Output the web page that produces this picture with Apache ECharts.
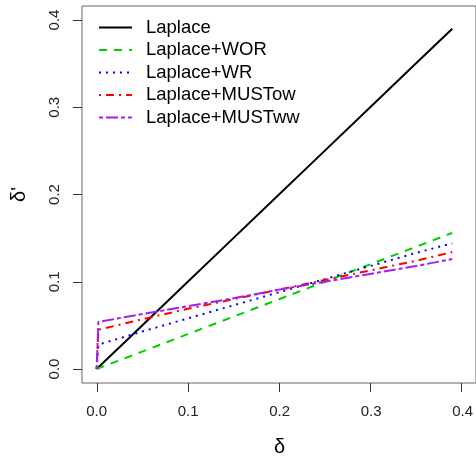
<!DOCTYPE html>
<html><head><meta charset="utf-8">
<script src="https://cdn.jsdelivr.net/npm/echarts@6/dist/echarts.min.js"></script>
<style>html,body{margin:0;padding:0;background:#fff}#c{width:476px;height:464px}</style>
</head><body><div id="c"></div>
<script>
// data
var delta = [0, 0.002, 0.05, 0.10, 0.15, 0.20, 0.25, 0.30, 0.35, 0.39];
var laplace = [0, 0.002, 0.05, 0.10, 0.15, 0.20, 0.25, 0.30, 0.35, 0.39];
var laplaceWOR = [0, 0.001, 0.020, 0.040, 0.060, 0.080, 0.100, 0.120, 0.140, 0.156];
var laplaceWR = [0, 0.028, 0.043, 0.058, 0.073, 0.088, 0.103, 0.118, 0.133, 0.144];
var laplaceMUSTow = [0, 0.045, 0.057, 0.069, 0.080, 0.091, 0.102, 0.113, 0.124, 0.134];
var laplaceMUSTww = [0, 0.054, 0.063, 0.072, 0.081, 0.091, 0.100, 0.109, 0.118, 0.126];
var tickValues = [0, 0.1, 0.2, 0.3, 0.4];
var tickMin = 0, tickMax = 0.4, tickStep = 0.1;
var seriesNames = ['Laplace', 'Laplace+WOR', 'Laplace+WR', 'Laplace+MUSTow', 'Laplace+MUSTww'];

function pairs(ys){ return delta.map(function(x,i){ return [x, ys[i]]; }); }
var FONT = '"Liberation Sans", Arial, sans-serif';
var styles = [
  {color:'#000000', type:'solid'},
  {color:'#00CD00', type:[8,7]},
  {color:'#0000FF', type:[2,5]},
  {color:'#FF0000', type:[2,5,8,5]},
  {color:'#A020F0', type:[4,3,12,3]}
];
var allData = [laplace, laplaceWOR, laplaceWR, laplaceMUSTow, laplaceMUSTww];
var series = allData.map(function(ys, i){
  return {
    name: seriesNames[i], type:'line', data: pairs(ys), xAxisIndex:0, yAxisIndex:0,
    showSymbol:false, symbol:'none', animation:false,
    lineStyle:{color:styles[i].color, width:2, type:styles[i].type},
    itemStyle:{color:styles[i].color}
  };
});
// pixel layout: data range -0.016..0.416 on the box; ticks 0..0.4
var boxL = 82, boxT = 6, boxW = 396, boxH = 377, tickLen = 9;
var pxPerX = boxW / 0.432, pxPerY = boxH / 0.432;
var g2L = boxL + 0.016 * pxPerX, g2W = 0.4 * pxPerX;
var g2T = boxT + 0.016 * pxPerY, g2H = 0.4 * pxPerY;
var chart = echarts.init(document.getElementById('c'), null, {renderer:'canvas'});
chart.setOption({
  backgroundColor:'#fff',
  animation:false,
  grid:[
    {left:boxL, top:boxT, width:boxW, height:boxH, show:true, borderColor:'#666', borderWidth:1, backgroundColor:'transparent'},
    {left:g2L, top:g2T, width:g2W, height:g2H, show:false}
  ],
  legend:{
    orient:'vertical', left:93, top:13, itemWidth:33, itemHeight:14, itemGap:3.5,
    itemStyle:{opacity:0},
    textStyle:{fontFamily:FONT, fontSize:18.5, color:'#000', lineHeight:18, padding:[0,0,0,9]},
    data: seriesNames
  },
  xAxis:[
    {gridIndex:0, type:'value', min:-0.016, max:0.416, show:false},
    {gridIndex:1, type:'value', min:tickMin, max:tickMax, interval:tickStep, offset: boxT + boxH - (g2T + g2H),
      name:'δ', nameLocation:'middle', nameGap:54,
      nameTextStyle:{fontFamily:FONT, fontSize:20, color:'#000'},
      axisLine:{show:false, onZero:false},
      splitLine:{show:false},
      axisTick:{show:false},
      axisLabel:{margin:21, fontFamily:FONT, fontSize:15, color:'#222',
        formatter:function(v){return v.toFixed(1);}}
    }
  ],
  yAxis:[
    {gridIndex:0, type:'value', min:-0.016, max:0.416, show:false},
    {gridIndex:1, type:'value', min:tickMin, max:tickMax, interval:tickStep, offset: g2L - boxL,
      name:"δ'", nameLocation:'middle', nameGap:53, nameRotate:90,
      nameTextStyle:{fontFamily:FONT, fontSize:20, color:'#000'},
      axisLine:{show:false, onZero:false},
      splitLine:{show:false},
      axisTick:{show:false},
      axisLabel:{margin:20, rotate:90, fontFamily:FONT, fontSize:15, color:'#222',
        formatter:function(v){return v.toFixed(1);}}
    }
  ],
  series: series
});
// tick marks: positions from the chart's own axis scale (convertToPixel)
var bottomY = chart.convertToPixel({gridIndex:0}, [0, -0.016])[1];
var leftX = chart.convertToPixel({gridIndex:0}, [-0.016, 0])[0];
var ticks = [];
tickValues.forEach(function(v){
  var px = chart.convertToPixel({gridIndex:0}, [v, v]);
  var x = Math.round(px[0]) + 0.5, y = Math.round(px[1]) + 0.5;
  ticks.push({type:'line', silent:true, z:100,
    shape:{x1:x, y1:Math.round(bottomY), x2:x, y2:Math.round(bottomY) + tickLen},
    style:{stroke:'#333', lineWidth:1}});
  ticks.push({type:'line', silent:true, z:100,
    shape:{x1:Math.round(leftX) - tickLen, y1:y, x2:Math.round(leftX), y2:y},
    style:{stroke:'#333', lineWidth:1}});
});
chart.setOption({graphic:{elements:ticks}});
</script>
</body></html>
